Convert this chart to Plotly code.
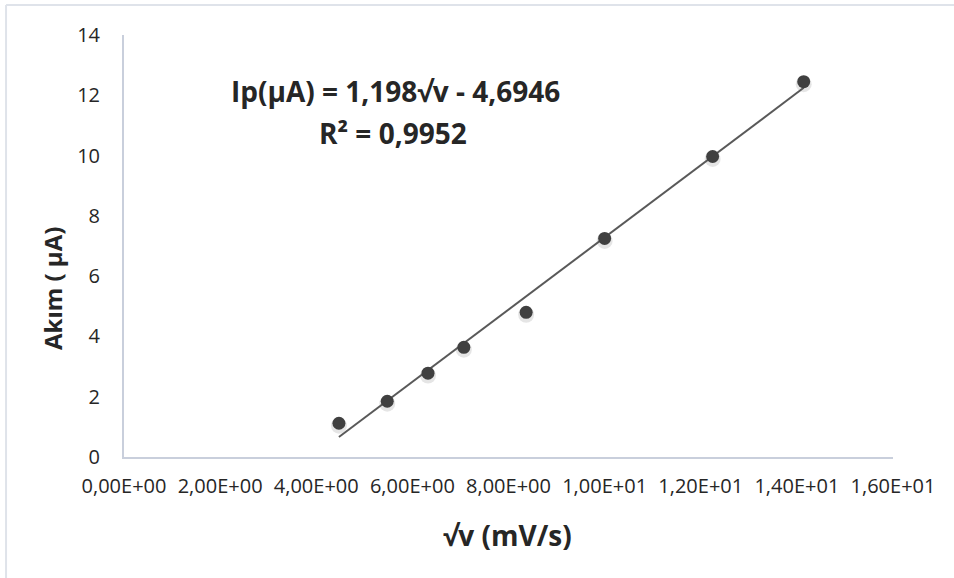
import plotly.graph_objects as go

# square root of scan rate (mV/s)^0.5 and peak current (µA)
sqrt_v = [4.472, 5.477, 6.325, 7.071, 8.367, 10.0, 12.247, 14.142]
current = [1.12, 1.85, 2.78, 3.64, 4.80, 7.25, 9.97, 12.45]

# linear trendline coefficients and fit quality
slope = 1.198
intercept = -4.6946
r_squared = 0.9952

x_tick_vals = [0, 2, 4, 6, 8, 10, 12, 14, 16]
x_tick_text = ["0,00E+00", "2,00E+00", "4,00E+00", "6,00E+00", "8,00E+00",
               "1,00E+01", "1,20E+01", "1,40E+01", "1,60E+01"]
y_tick_vals = [0, 2, 4, 6, 8, 10, 12, 14]

x_title = "√v (mV/s)"
y_title = "Akım ( µA)"

FONT = "Open Sans"
TEXT = "#262626"
AXIS = "#c9cfdc"

x_fit = [min(sqrt_v), max(sqrt_v)]
y_fit = [slope * x + intercept for x in x_fit]

fig = go.Figure()

# soft drop shadow under the markers
fig.add_trace(go.Scatter(
    x=sqrt_v, y=[c - 0.08 for c in current], mode="markers",
    marker=dict(size=16, color="rgba(0,0,0,0.10)", line=dict(width=0)),
    hoverinfo="skip", showlegend=False))

fig.add_trace(go.Scatter(
    x=x_fit, y=y_fit, mode="lines",
    line=dict(color="#595959", width=2), showlegend=False))

fig.add_trace(go.Scatter(
    x=sqrt_v, y=current, mode="markers",
    marker=dict(size=13, color="#404040", line=dict(width=0)),
    showlegend=False))

eq_line = f"Ip(µA) = {slope:.3f}√v - {abs(intercept):.4f}".replace(".", ",")
r2_line = f"R² = {r_squared:.4f}".replace(".", ",")

bold = dict(family=FONT, color=TEXT, weight="bold")
centered = dict(xref="paper", yref="paper", showarrow=False,
                xanchor="center", yanchor="middle")

fig.add_annotation(x=0.3537, y=0.868, text=eq_line,
                   font=dict(size=28, **bold), **centered)
fig.add_annotation(x=0.3498, y=0.767, text=r2_line,
                   font=dict(size=28, **bold), **centered)

# axis titles
fig.add_annotation(x=0.4993, y=-0.1848, text=x_title,
                   font=dict(size=28, **bold), **centered)
fig.add_annotation(x=-0.0936, y=0.398, text=y_title, textangle=-90,
                   font=dict(size=24, **bold), **centered)

# outer chart frame (left and top edges)
fig.add_shape(type="line", xref="paper", yref="paper",
              x0=-0.1534, x1=-0.1534, y0=1.0711, y1=-0.35,
              line=dict(color="#dfe3ea", width=2))
fig.add_shape(type="line", xref="paper", yref="paper",
              x0=-0.1534, x1=1.2, y0=1.0711, y1=1.0711,
              line=dict(color="#dfe3ea", width=2))

fig.update_layout(
    width=954, height=578,
    margin=dict(l=124, r=61, t=35, b=121),
    paper_bgcolor="white", plot_bgcolor="white",
    font=dict(family=FONT, color=TEXT),
    xaxis=dict(
        range=[0, 16], tickvals=x_tick_vals, ticktext=x_tick_text,
        showgrid=False, zeroline=False, showline=True,
        linecolor=AXIS, linewidth=2,
        ticks="outside", ticklen=10, tickcolor="rgba(0,0,0,0)",
        tickfont=dict(family=FONT, size=20, color=TEXT),
    ),
    yaxis=dict(
        range=[0, 14], tickvals=y_tick_vals,
        showgrid=False, zeroline=False, showline=True,
        linecolor=AXIS, linewidth=2,
        ticks="outside", ticklen=18, tickcolor="rgba(0,0,0,0)",
        tickfont=dict(family=FONT, size=20, color=TEXT),
    ),
)

fig.write_html("out.html")
